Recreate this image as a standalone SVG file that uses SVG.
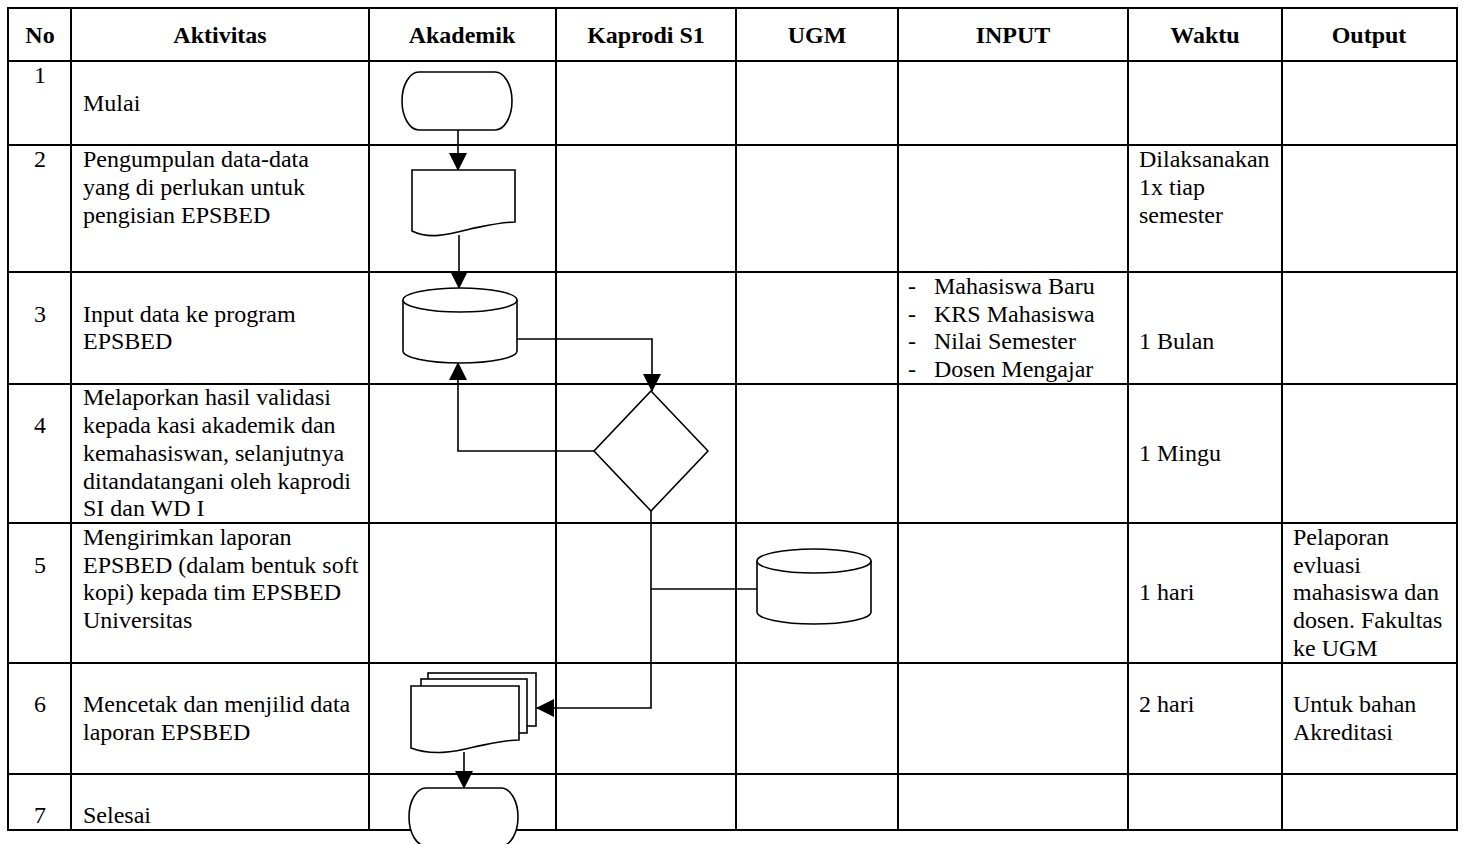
<svg xmlns="http://www.w3.org/2000/svg" width="1463" height="844" viewBox="0 0 1463 844">
<defs>
<style>
.grid{stroke:#000;stroke-width:2;fill:none}
.sh{stroke:#000;stroke-width:1.6;fill:#fff}
.ln{stroke:#000;stroke-width:1.6;fill:none}
text{font-family:"Liberation Serif","Times New Roman",serif;font-size:24px;fill:#000}
.h{font-weight:bold;text-anchor:middle}
.c{text-anchor:middle}
</style>
<marker id="ah" markerUnits="userSpaceOnUse" markerWidth="18" markerHeight="18" viewBox="0 0 18 18" refX="17" refY="9" orient="auto">
<path d="M0,0 L18,9 L0,18 Z" fill="#000"/>
</marker>
</defs>
<rect width="1463" height="844" fill="#fff"/>
<g id="table" class="grid">
<rect x="8" y="8" width="1449" height="822"/>
<path d="M8,61H1457M8,145H1457M8,272H1457M8,384H1457M8,523H1457M8,663H1457M8,774H1457"/>
<path d="M71,8V830M369,8V830M556,8V830M736,8V830M898,8V830M1128,8V830M1282,8V830"/>
</g>
<g id="headers">
<text class="h" x="40" y="43">No</text>
<text class="h" x="220" y="43">Aktivitas</text>
<text class="h" x="462" y="43">Akademik</text>
<text class="h" x="646" y="43">Kaprodi S1</text>
<text class="h" x="817" y="43">UGM</text>
<text class="h" x="1013" y="43">INPUT</text>
<text class="h" x="1205" y="43">Waktu</text>
<text class="h" x="1369" y="43">Output</text>
</g>
<g id="numbers">
<text class="c" x="40" y="83">1</text>
<text class="c" x="40" y="167">2</text>
<text class="c" x="40" y="322">3</text>
<text class="c" x="40" y="433">4</text>
<text class="c" x="40" y="573">5</text>
<text class="c" x="40" y="712">6</text>
<text class="c" x="40" y="823">7</text>
</g>
<g id="aktivitas">
<text x="83" y="111">Mulai</text>
<text x="83" y="167">Pengumpulan data-data</text>
<text x="83" y="195">yang di perlukan untuk</text>
<text x="83" y="223">pengisian EPSBED</text>
<text x="83" y="322">Input data ke program</text>
<text x="83" y="349">EPSBED</text>
<text x="83" y="405">Melaporkan hasil validasi</text>
<text x="83" y="433">kepada kasi akademik dan</text>
<text x="83" y="461">kemahasiswan, selanjutnya</text>
<text x="83" y="489">ditandatangani oleh kaprodi</text>
<text x="83" y="516">SI dan WD I</text>
<text x="83" y="545">Mengirimkan laporan</text>
<text x="83" y="573">EPSBED (dalam bentuk soft</text>
<text x="83" y="600">kopi) kepada tim EPSBED</text>
<text x="83" y="628">Universitas</text>
<text x="83" y="712">Mencetak dan menjilid data</text>
<text x="83" y="740">laporan EPSBED</text>
<text x="83" y="823">Selesai</text>
</g>
<g id="input">
<text x="908" y="294">-</text><text x="934" y="294">Mahasiswa Baru</text>
<text x="908" y="322">-</text><text x="934" y="322">KRS Mahasiswa</text>
<text x="908" y="349">-</text><text x="934" y="349">Nilai Semester</text>
<text x="908" y="377">-</text><text x="934" y="377">Dosen Mengajar</text>
</g>
<g id="waktu">
<text x="1139" y="167">Dilaksanakan</text>
<text x="1139" y="195">1x tiap</text>
<text x="1139" y="223">semester</text>
<text x="1139" y="349">1 Bulan</text>
<text x="1139" y="461">1 Mingu</text>
<text x="1139" y="600">1 hari</text>
<text x="1139" y="712">2 hari</text>
</g>
<g id="output">
<text x="1293" y="545">Pelaporan</text>
<text x="1293" y="573">evluasi</text>
<text x="1293" y="600">mahasiswa dan</text>
<text x="1293" y="628">dosen. Fakultas</text>
<text x="1293" y="656">ke UGM</text>
<text x="1293" y="712">Untuk bahan</text>
<text x="1293" y="740">Akreditasi</text>
</g>
<g id="connectors" class="ln">
<path d="M458,130V170" marker-end="url(#ah)"/>
<path d="M459,235V288" marker-end="url(#ah)"/>
<path d="M517,339H652V391" marker-end="url(#ah)"/>
<path d="M594,451H458V363" marker-end="url(#ah)"/>
<path d="M651,511V708H537" marker-end="url(#ah)"/>
<path d="M651,589H757"/>
<path d="M464,752V788" marker-end="url(#ah)"/>
</g>
<g id="start">
<rect class="sh" x="402" y="72" width="110" height="58" rx="17" ry="29"/>
</g>
<g id="doc1">
<path class="sh" d="M412,170H515V222C500,222 485,226 470,229C450,234 430,240 412,231Z"/>
</g>
<g id="db1">
<path class="sh" d="M403,300V351A57,12 0 0 0 517,351V300"/>
<ellipse class="sh" cx="460" cy="300" rx="57" ry="12"/>
</g>
<g id="decision">
<path class="sh" d="M651,391L708,451L651,511L594,451Z"/>
</g>
<g id="db2">
<path class="sh" d="M757,561V612A57,12 0 0 0 871,612V561"/>
<ellipse class="sh" cx="814" cy="561" rx="57" ry="12"/>
</g>
<g id="multidoc">
<rect class="sh" x="428" y="673" width="108" height="53"/>
<rect class="sh" x="421" y="679" width="106" height="54"/>
<path class="sh" d="M411,686H519V740C504,740 489,744 474,747C454,752 432,756 411,748Z"/>
</g>
<g id="end">
<rect class="sh" x="409" y="788" width="109" height="58" rx="17" ry="29"/>
</g>
</svg>
